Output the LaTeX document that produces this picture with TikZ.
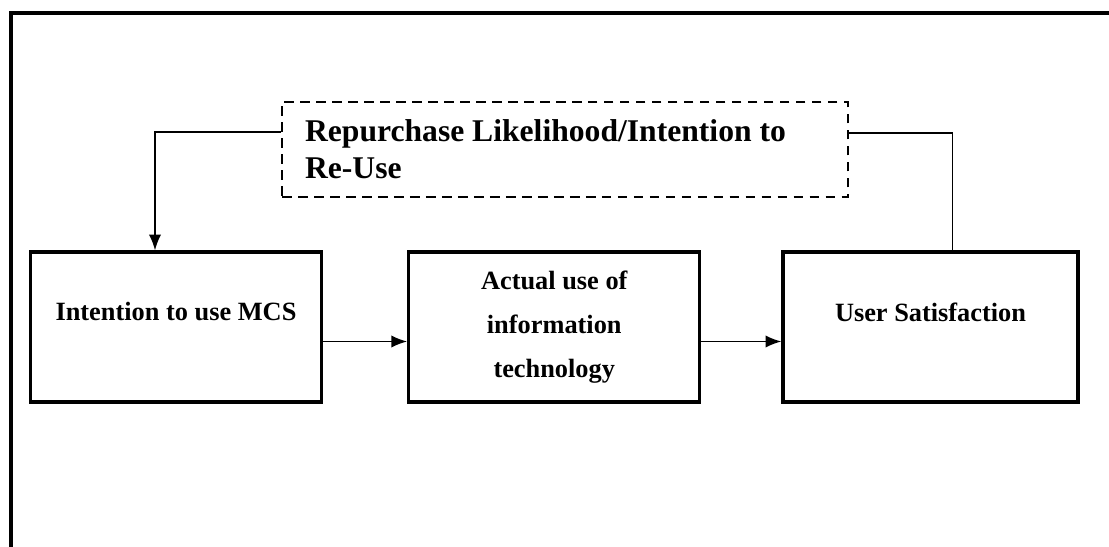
\documentclass[tikz,border=0pt]{standalone}
\usepackage{fontspec}
\setmainfont{Liberation Serif}
\usetikzlibrary{arrows.meta,positioning}

\begin{document}
\begin{tikzpicture}[>={Latex[length=9pt,width=7pt]}, x=0.02cm, y=-0.02cm]
	\tikzstyle{box}=[draw, line width=1.9pt, minimum width=5.82cm, minimum height=3cm,
		align=center, font=\fontsize{15}{25}\selectfont\bfseries]
	\tikzstyle{boxlabel}=[font=\fontsize{15}{25}\selectfont\bfseries, yshift=0.3cm]
	\tikzstyle{link}=[line width=0.9pt]
	\useasboundingbox (0,0) rectangle (1109,547);
	% % Frame
	\draw[line width=2.4pt] (11,547) -- (11,13) -- (1109,13);
	% % Nodes
	% repurchase / re-use
	\node[draw, dash pattern=on 5.5pt off 3.6pt, line width=1.2pt,
		  minimum width=11.32cm, minimum height=1.9cm, text width=10.4cm,
		  align=flush left, font=\fontsize{18}{21}\selectfont\bfseries]
	(reuse) at (565,149.5)
	{Repurchase Likelihood/Intention to\\Re-Use};
	% intention to use
	\node[box, label={[boxlabel]center:Intention to use MCS}]
	(intent) at (176,327) {};
	% actual use
	\node[box, right=1.68cm of intent](actual)
	{Actual use of\\information\\technology};
	% user satisfaction
	\node[box, right=1.6cm of actual, minimum width=5.9cm,
		  label={[boxlabel]center:User Satisfaction}]
	(satisf) {};
	% % Connectors
	\draw[link, ->] ([yshift=-0.29cm]intent.east) -- ([yshift=-0.29cm]intent.east -| actual.west);
	\draw[link, ->] ([yshift=-0.29cm]actual.east) -- ([yshift=-0.29cm]actual.east -| satisf.west);
	\draw[link, ->] ([yshift=0.35cm]reuse.west) -| ([xshift=-0.42cm]intent.north);
	\draw[link] ([yshift=0.33cm]reuse.east) -| ([xshift=0.44cm]satisf.north);
\end{tikzpicture}
\end{document}
